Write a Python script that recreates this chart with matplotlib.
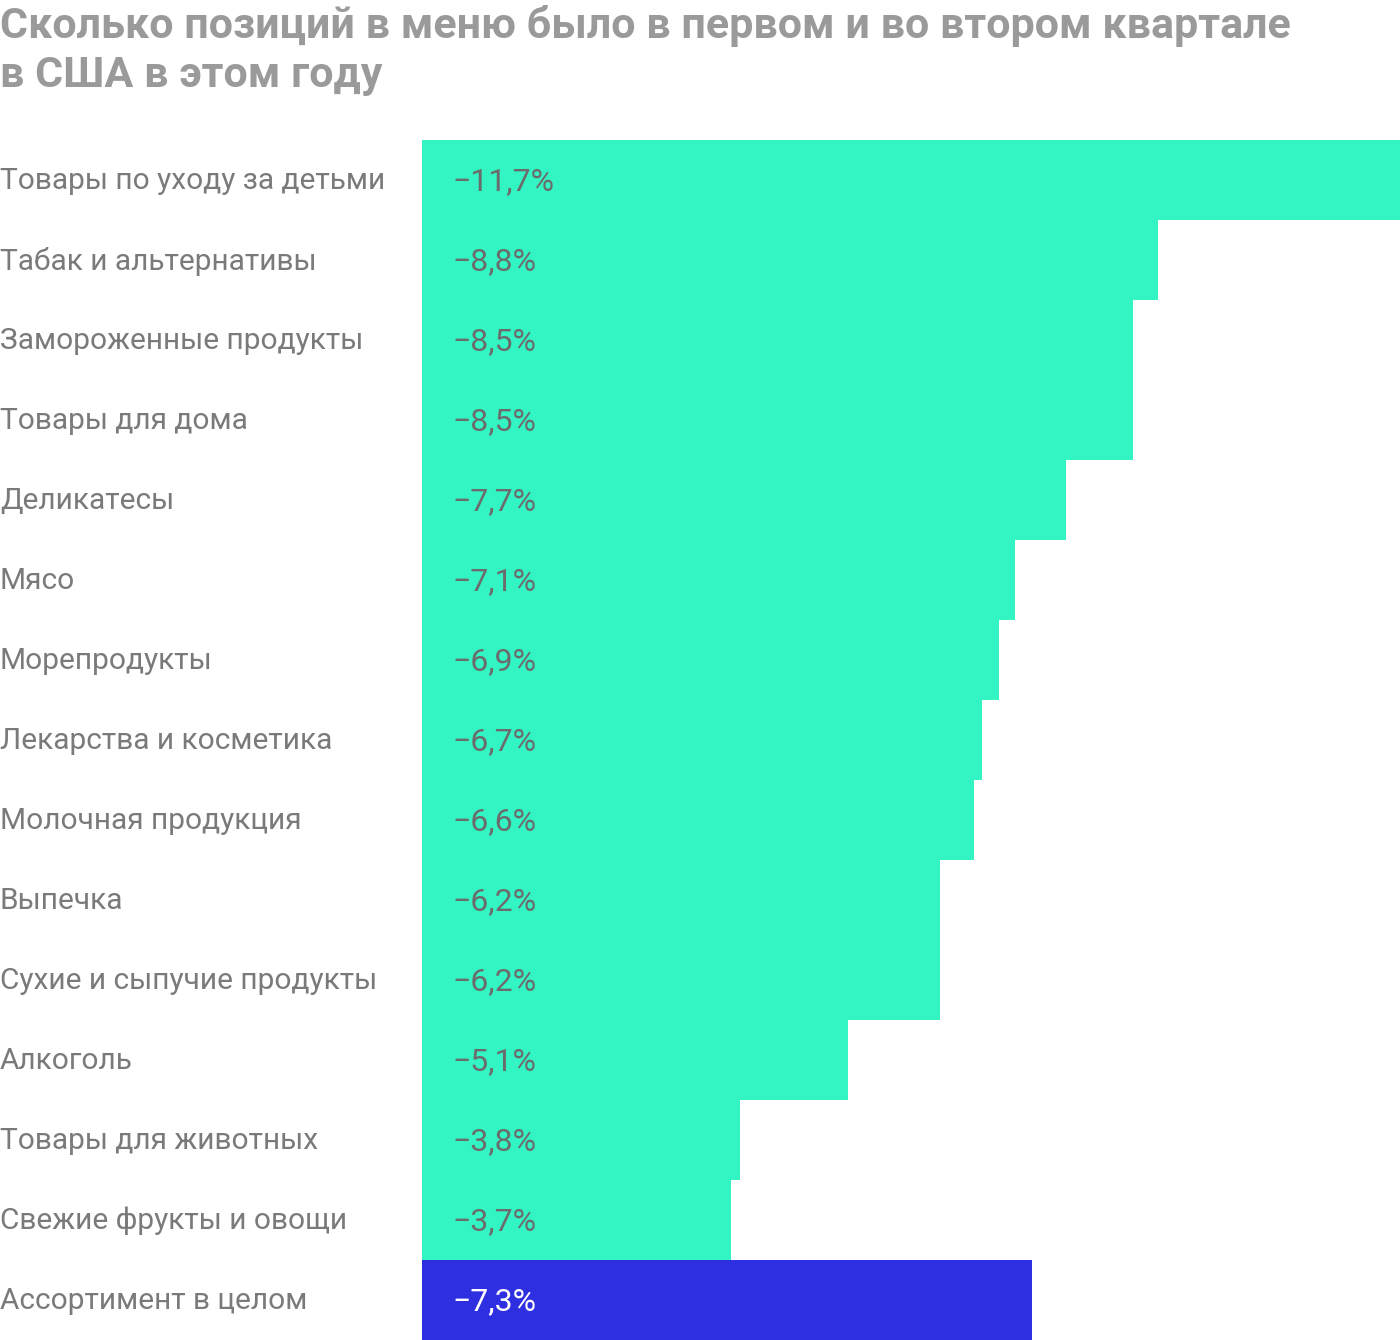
import matplotlib.pyplot as plt
import numpy as np

categories = [
    'Товары по уходу за детьми', 'Табак и альтернативы', 'Замороженные продукты',
    'Товары для дома', 'Деликатесы', 'Мясо', 'Морепродукты',
    'Лекарства и косметика', 'Молочная продукция', 'Выпечка',
    'Сухие и сыпучие продукты', 'Алкоголь', 'Товары для животных',
    'Свежие фрукты и овощи', 'Ассортимент в целом',
]
values = [-11.7, -8.8, -8.5, -8.5, -7.7, -7.1, -6.9, -6.7, -6.6, -6.2, -6.2, -5.1, -3.8, -3.7, -7.3]
labels = ['−' + f'{abs(v):.1f}'.replace('.', ',') + '%' for v in values]

green = '#33f5c4'
blue = '#2f2fe2'
colors = [green] * (len(values) - 1) + [blue]
text_colors = ['#6b6b6b'] * (len(values) - 1) + ['white']

W, H = 1400, 1340
fig = plt.figure(figsize=(W / 100, H / 100), dpi=100)
ax = fig.add_axes([422 / W, 0, 1 - 422 / W, (H - 140) / H])

y = np.arange(len(values))
ax.barh(y, np.abs(values), height=1.0, color=colors, align='center')
ax.set_ylim(len(values) - 0.5, -0.5)
ax.set_xlim(0, 11.7)
ax.axis('off')

for i, (cat, lab) in enumerate(zip(categories, labels)):
    ax.text(0.36, i + 0.02, lab, va='center', ha='left', fontsize=23,
            color=text_colors[i], family='Roboto')
    fig.text(0.0, 1 - (140 + 80 * i + 41) / H, cat, va='center', ha='left',
             fontsize=21.5, color='#7a7a7a', family='Roboto')

fig.text(0.0, 1 - 5 / H,
         'Сколько позиций в меню было в первом и во втором квартале\nв США в этом году',
         va='top', ha='left', fontsize=31, fontweight='bold', color='#9a9a9a',
         family='Roboto', linespacing=1.25)

fig.savefig('out.png', dpi=100)
